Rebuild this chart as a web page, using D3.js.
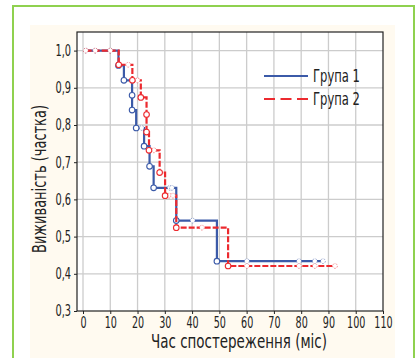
<!DOCTYPE html>
<html>
<head>
<meta charset="utf-8">
<script src="https://cdn.jsdelivr.net/npm/d3@7"></script>
<style>
  html, body { margin: 0; padding: 0; background: #ffffff; }
  svg { display: block; }
  text { font-family: "Liberation Sans Narrow", "DejaVu Sans Condensed", "Roboto", sans-serif; fill: #222; }
</style>
</head>
<body>
<svg id="chart" width="419" height="358"></svg>
<script>
// ---------- data ----------
const seriesNames = ["Група 1", "Група 2"];
const xTicks = [0, 10, 20, 30, 40, 50, 60, 70, 80, 90, 100, 110];
const yTicks = [0.3, 0.4, 0.5, 0.6, 0.7, 0.8, 0.9, 1.0];

// Group 1 (blue): event times and survival after each event
const g1Start = 1;
const g1End = 88;
const g1EventTimes = [13, 15, 18, 18, 19.5, 22.4, 24.4, 25.9, 34.2, 49.1];
const g1EventSurv  = [0.96, 0.92, 0.88, 0.84, 0.792, 0.743, 0.689, 0.631, 0.543, 0.434];
const g1CensTimes  = [1, 4.5, 10, 21.5, 31.8, 32.6, 40.2, 60.1, 79.2, 85, 88];

// Group 2 (red)
const g2Start = 1;
const g2End = 92.4;
const g2EventTimes = [13.1, 18.1, 21.2, 23.3, 23.3, 24.2, 28.1, 30.1, 34.2, 53.2];
const g2EventSurv  = [0.962, 0.92, 0.874, 0.828, 0.781, 0.732, 0.672, 0.61, 0.524, 0.421];
const g2CensTimes  = [1, 4.5, 10, 16.6, 20, 26, 31.6, 33, 43.6, 60.1, 79.2, 85, 92.4];

// ---------- layout ----------
const svg = d3.select("#chart");
const W = 419, H = 358;
const plot = { left: 77, right: 383, top: 32, bottom: 311 };

// outer frame and panel
svg.append("rect").attr("x", 0).attr("y", 0).attr("width", W).attr("height", H).attr("fill", "#ffffff");
svg.append("rect").attr("x", 30).attr("y", 25).attr("width", 365).attr("height", H - 25).attr("fill", "#fffaf0");
svg.append("path")
  .attr("d", `M13,${H} L13,6 L414,6 L414,${H}`)
  .attr("fill", "none").attr("stroke", "#8fd14f").attr("stroke-width", 2);

svg.append("rect")
  .attr("x", plot.left).attr("y", plot.top)
  .attr("width", plot.right - plot.left).attr("height", plot.bottom - plot.top)
  .attr("fill", "#ffffff");

const x = d3.scaleLinear().domain([-2.2, 110]).range([plot.left, plot.right]);
const y = d3.scaleLinear().domain([0.3, 1.05]).range([plot.bottom, plot.top]);

// grid
const grid = svg.append("g");
grid.selectAll("line.vx").data(xTicks.filter(d => d < 110)).join("line")
  .attr("x1", d => x(d)).attr("x2", d => x(d))
  .attr("y1", plot.top).attr("y2", plot.bottom)
  .attr("stroke", "#cccccc").attr("stroke-width", 1.3);
grid.selectAll("line.hy").data(yTicks.filter(d => d > 0.3)).join("line")
  .attr("x1", plot.left).attr("x2", plot.right)
  .attr("y1", d => y(d)).attr("y2", d => y(d))
  .attr("stroke", "#cccccc").attr("stroke-width", 1.3);

// axes
const fmt = d3.format(".1f");
const xAxis = d3.axisBottom(x).tickValues(xTicks).tickSize(3).tickPadding(3).tickFormat(d3.format("d"));
const yAxis = d3.axisLeft(y).tickValues(yTicks).tickSize(3).tickPadding(3).tickFormat(d => fmt(d).replace(".", ","));

const gx = svg.append("g").attr("transform", `translate(0,${plot.bottom})`).call(xAxis);
const gy = svg.append("g").attr("transform", `translate(${plot.left},0)`).call(yAxis);
function narrowLen(s) {
  let w = 0;
  for (const c of s) w += (c === "," ? 3.4 : 6.1);
  return w;
}
[gx, gy].forEach(g => {
  g.select(".domain").remove();
  g.selectAll(".tick line").attr("stroke", "#222");
  g.selectAll(".tick text")
    .attr("font-size", 15)
    .style("font-family", '"Liberation Sans Narrow", "DejaVu Sans Condensed", sans-serif')
    .attr("fill", "#1a1a1a")
    .attr("lengthAdjust", "spacingAndGlyphs")
    .attr("textLength", function () { return narrowLen(this.textContent); });
});

// frame
svg.append("rect")
  .attr("x", plot.left).attr("y", plot.top)
  .attr("width", plot.right - plot.left).attr("height", plot.bottom - plot.top)
  .attr("fill", "none").attr("stroke", "#222").attr("stroke-width", 1.2);

// axis titles
svg.append("text")
  .attr("x", 239).attr("y", 348)
  .attr("text-anchor", "middle").attr("font-size", 19)
  .attr("lengthAdjust", "spacingAndGlyphs").attr("textLength", 176)
  .text("Час спостереження (міс)");
svg.append("text")
  .attr("transform", `translate(46,179) rotate(-90)`)
  .attr("text-anchor", "middle").attr("font-size", 19)
  .attr("lengthAdjust", "spacingAndGlyphs").attr("textLength", 148)
  .text("Виживаність (частка)");

// survival curves
function buildSeries(start, end, times, surv) {
  const pts = [[start, 1.0]];
  times.forEach((t, i) => pts.push([t, surv[i]]));
  pts.push([end, surv[surv.length - 1]]);
  return pts;
}
function survAt(t, times, surv) {
  let s = 1.0;
  times.forEach((tt, i) => { if (tt <= t) s = surv[i]; });
  return s;
}
const line = d3.line().x(d => x(d[0])).y(d => y(d[1])).curve(d3.curveStepAfter);

const groups = [
  { color: "#3b5aa8", dash: null, start: g1Start, end: g1End, times: g1EventTimes, surv: g1EventSurv, cens: g1CensTimes },
  { color: "#ec2a2f", dash: "6,2", start: g2Start, end: g2End, times: g2EventTimes, surv: g2EventSurv, cens: g2CensTimes }
];

groups.forEach(g => {
  const pts = buildSeries(g.start, g.end, g.times, g.surv);
  svg.append("path").datum(pts)
    .attr("d", line).attr("fill", "none")
    .attr("stroke", g.color).attr("stroke-width", 2.2)
    .attr("stroke-dasharray", g.dash);
  // censored marks
  svg.append("g").selectAll("circle").data(g.cens).join("circle")
    .attr("cx", d => x(d)).attr("cy", d => y(survAt(d, g.times, g.surv)))
    .attr("r", 2.4).attr("fill", "#ffffff")
    .attr("stroke", g.color).attr("stroke-width", 1)
    .attr("stroke-dasharray", "1.5,1.2").attr("stroke-opacity", 0.5);
  // event marks
  svg.append("g").selectAll("circle").data(g.times.map((t, i) => [t, g.surv[i]])).join("circle")
    .attr("cx", d => x(d[0])).attr("cy", d => y(d[1]))
    .attr("r", 2.8).attr("fill", "#ffffff")
    .attr("stroke", g.color).attr("stroke-width", 1.1);
});

// legend
const legend = svg.append("g");
const legY = [76, 99];
seriesNames.forEach((name, i) => {
  legend.append("line")
    .attr("x1", 264).attr("x2", 308).attr("y1", legY[i]).attr("y2", legY[i])
    .attr("stroke", groups[i].color).attr("stroke-width", 2)
    .attr("stroke-dasharray", i === 1 ? "11,5.5" : null);
  legend.append("text")
    .attr("x", 313).attr("y", legY[i] + 6)
    .attr("font-size", 17)
    .attr("lengthAdjust", "spacingAndGlyphs").attr("textLength", 47)
    .text(name);
});
</script>
</body>
</html>
